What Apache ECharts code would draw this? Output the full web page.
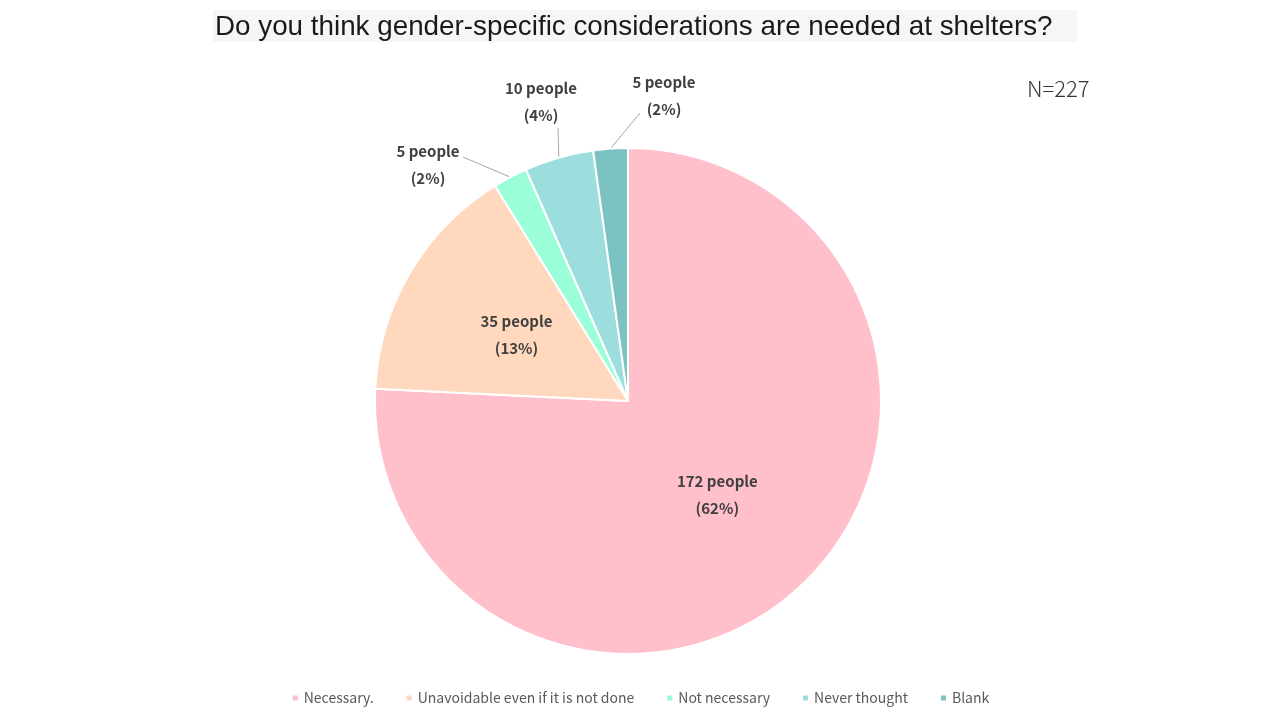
<!DOCTYPE html>
<html>
<head>
<meta charset="utf-8">
<script src="https://cdn.jsdelivr.net/npm/echarts@6/dist/echarts.min.js"></script>
<style>
  html, body { margin: 0; padding: 0; background: #fff; }
  #chart { width: 1280px; height: 720px; }
</style>
</head>
<body>
<div id="chart"></div>
<script>
var categories = ['Necessary.', 'Unavoidable even if it is not done', 'Not necessary', 'Never thought', 'Blank'];
var counts = [172, 35, 5, 10, 5];
var percentLabels = [62, 13, 2, 4, 2];
var colors = ['#FFBFCB', '#FFD8BE', '#9AFFD9', '#9CDEDE', '#7DC2C2'];

// small outside labels: [label centre x, y, leader line end x, y]
var outsideLabelPos = {
  2: [428, 165, 463, 157],
  3: [541, 102, 558, 128],
  4: [664, 96, 640, 113]
};

var labelFont = '"Noto Sans CJK JP", "Noto Sans", sans-serif';

var myChart = echarts.init(document.getElementById('chart'));

var option = {
  color: colors,
  title: [
    {
      text: 'Do you think gender-specific considerations are needed at shelters?',
      left: 213,
      top: 10,
      padding: [3, 25, 1, 2],
      backgroundColor: '#F5F6F8',
      textStyle: {
        fontFamily: '"Liberation Sans", Arial, sans-serif',
        fontSize: 27.8,
        lineHeight: 28,
        fontWeight: 'normal',
        color: '#1a1a1a'
      }
    },
    {
      text: 'N=227',
      left: 1027,
      top: 78,
      padding: 0,
      textStyle: {
        fontFamily: '"Noto Sans CJK JP", sans-serif',
        fontSize: 22,
        fontWeight: 300,
        color: '#333'
      }
    }
  ],
  legend: {
    bottom: 10,
    left: 'center',
    icon: 'rect',
    itemWidth: 7,
    itemHeight: 7,
    itemGap: 31,
    textStyle: {
      fontFamily: labelFont,
      fontSize: 14,
      color: '#595959'
    },
    data: categories
  },
  series: [
    {
      type: 'pie',
      center: [628, 401],
      radius: 253,
      startAngle: 90,
      clockwise: true,
      avoidLabelOverlap: false,
      itemStyle: {
        borderColor: '#fff',
        borderWidth: 2
      },
      label: {
        show: true,
        fontFamily: labelFont,
        fontSize: 15,
        fontWeight: 'bold',
        color: '#404040',
        lineHeight: 27,
        align: 'center',
        formatter: function (p) {
          return p.value + ' people\n(' + percentLabels[p.dataIndex] + '%)';
        }
      },
      labelLine: {
        show: true,
        length: 10,
        length2: 10,
        lineStyle: { color: '#A6A6A6', width: 1 }
      },
      labelLayout: function (params) {
        var pos = outsideLabelPos[params.dataIndex];
        if (!pos) return {};
        var res = { x: pos[0], y: pos[1], align: 'center', verticalAlign: 'middle' };
        if (params.labelLinePoints && params.labelLinePoints.length) {
          var start = params.labelLinePoints[0];
          res.labelLinePoints = [[start[0], start[1]], [pos[2], pos[3]]];
        }
        return res;
      },
      data: categories.map(function (name, i) {
        var inside = i < 2;
        return {
          name: name,
          value: counts[i],
          label: { position: inside ? 'inside' : 'outside' },
          labelLine: { show: !inside }
        };
      })
    }
  ]
};

myChart.setOption(option);
</script>
</body>
</html>
